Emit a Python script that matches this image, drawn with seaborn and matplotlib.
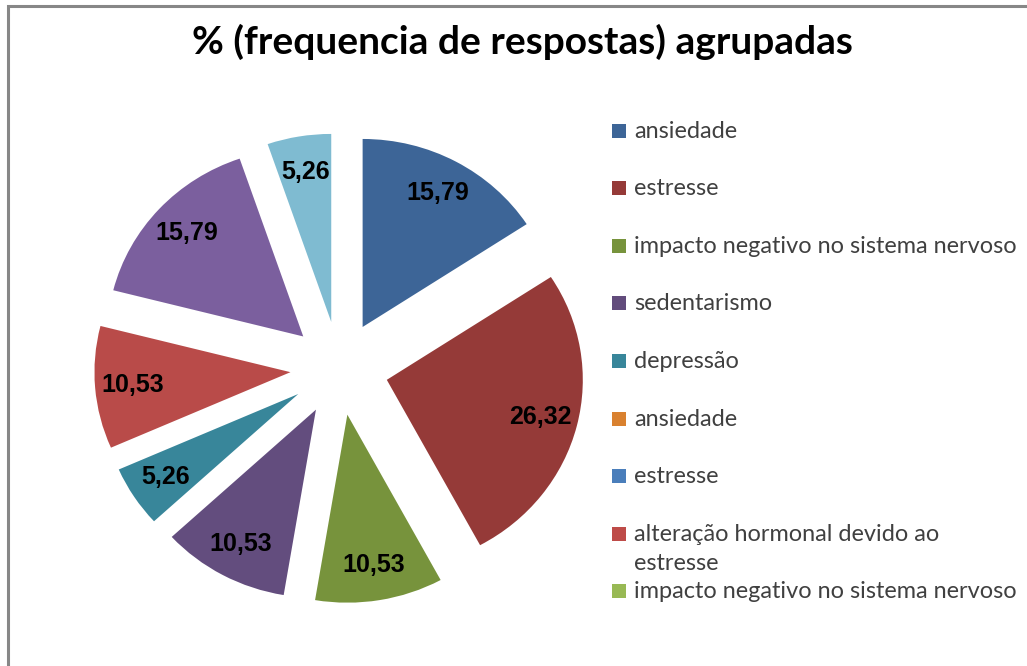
import matplotlib
matplotlib.use("Agg")
import matplotlib.pyplot as plt
from matplotlib.patches import Rectangle
import seaborn as sns

# ---- data ----
title = "% (frequencia de respostas) agrupadas"
slice_values = [15.79, 26.32, 10.53, 10.53, 5.26, 10.53, 15.79, 5.26]
slice_colors = ["#3D6597", "#953A38", "#77933C", "#634D7E",
                "#38869A", "#B94B49", "#7B5F9E", "#7FBBD1"]
legend_labels = ["ansiedade", "estresse", "impacto negativo no sistema nervoso",
                 "sedentarismo", "depressão", "ansiedade", "estresse",
                 "alteração hormonal devido ao\nestresse",
                 "impacto negativo no sistema nervoso"]
legend_colors = ["#3D6597", "#953A38", "#77933C", "#624C7C", "#38869A",
                 "#D9812F", "#4A7EBB", "#BE4B48", "#98B954"]

sns.set_style("white")
plt.rcParams["font.family"] = ["Liberation Sans", "DejaVu Sans"]

W, H = 1027, 666
fig = plt.figure(figsize=(W / 100, H / 100), dpi=100)
fig.patch.set_facecolor("white")

# frame
fig.patches.append(Rectangle((8 / W, -0.1), 2.0, 1.1 - 6 / H,
                             transform=fig.transFigure, fill=False,
                             edgecolor="#878787", linewidth=2.2,
                             zorder=0))

# pie
cx, cy = 339.3, H - 368.3
sx, sy = 196.0, 188.0
lim = 1.5
ax = fig.add_axes([(cx - lim * sx) / W, (cy - lim * sy) / H,
                   2 * lim * sx / W, 2 * lim * sy / H])
pal = sns.color_palette(slice_colors)
label_strs = [f"{v:.2f}".replace(".", ",") for v in slice_values]
wedges, texts = ax.pie(slice_values, colors=pal, explode=[0.25] * len(slice_values),
                       startangle=90, counterclock=False, labels=label_strs,
                       labeldistance=0.81, radius=1,
                       wedgeprops=dict(linewidth=0),
                       textprops=dict(fontsize=18, fontweight="bold",
                                      color="black",
                                      family=["Liberation Sans", "DejaVu Sans"]))
for t in texts:
    t.set_ha("center")
    t.set_va("center")
ax.set_aspect("auto")
ax.set_xlim(-lim, lim)
ax.set_ylim(-lim, lim)
ax.axis("off")

# title
tt = fig.text(522.5 / W, 1 - 54 / H, title, ha="center", va="baseline",
              fontsize=22, fontweight="bold", color="black",
              family=["Lato", "DejaVu Sans"])

# legend
fig.canvas.draw()
r = fig.canvas.get_renderer()
w = tt.get_window_extent(r).width
tt.set_fontsize(22 * 659 / w)

leg_fs = 15
probe = fig.text(0, 0, "impacto negativo no sistema nervoso", fontsize=leg_fs,
                 family=["Lato", "DejaVu Sans"])
pw = probe.get_window_extent(r).width
probe.remove()
leg_fs = leg_fs * 383 / pw

y0, dy = 130.5, 57.6
sq = 14
for i, (lab, col) in enumerate(zip(legend_labels, legend_colors)):
    yc = y0 + dy * i
    fig.patches.append(Rectangle((612 / W, 1 - (yc + sq / 2) / H), sq / W, sq / H,
                                 transform=fig.transFigure, facecolor=col,
                                 edgecolor="none"))
    for j, line in enumerate(lab.split("\n")):
        fig.text(634 / W, 1 - (yc + 7 + 29 * j) / H, line, ha="left",
                 va="baseline", fontsize=leg_fs, color="#404040",
                 family=["Lato", "DejaVu Sans"])

fig.savefig("out.png", dpi=100)
